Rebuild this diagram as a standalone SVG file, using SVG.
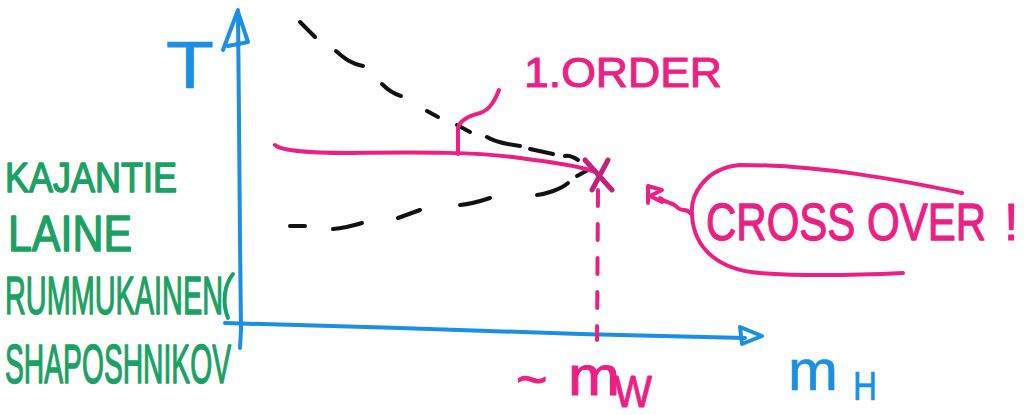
<svg xmlns="http://www.w3.org/2000/svg" width="1031" height="415" viewBox="0 0 1031 415">
<style>
.blue{stroke:#1a8fe3;fill:none;stroke-width:4;stroke-linecap:round;stroke-linejoin:round}
.pink{stroke:#ec1f85;fill:none;stroke-width:4;stroke-linecap:round;stroke-linejoin:round}
.dash{stroke:#111;fill:none;stroke-width:4;stroke-linecap:round}
.g{font-family:"Liberation Sans",Arial,sans-serif;fill:#1aa163;stroke:#1aa163;stroke-width:1.5;stroke-linejoin:round}
.pt{font-family:"Liberation Sans",Arial,sans-serif;fill:#ec1f85;stroke:#ec1f85;stroke-width:1;stroke-linejoin:round}
.bt{font-family:"Liberation Sans",Arial,sans-serif;fill:#1a8fe3;stroke:#1a8fe3;stroke-width:0.6}
</style>
<rect width="1031" height="415" fill="#fff"/>
<g id="axes">
<path class="blue" d="M238,12 L239,120 L240,240 L241,330 L240,348"/>
<path class="blue" d="M238,10 L223,50 M238,12 L248,42 L228,46"/>
<path class="blue" d="M225,323 L400,328 L580,334 L745,338"/>
<path class="blue" d="M740,327 L762,336 L742,344 Z" fill="#1a8fe3"/>
</g>
<g id="labels-axes">
<text class="bt" x="166" y="88" font-size="66" font-weight="300" textLength="48" lengthAdjust="spacingAndGlyphs">T</text>
<text class="bt" x="788" y="390" font-size="58" textLength="50" lengthAdjust="spacingAndGlyphs">m</text>
<text class="bt" x="853" y="400" font-size="40" textLength="24" lengthAdjust="spacingAndGlyphs">H</text>
</g>
<g id="authors">
<text class="g" x="5" y="192" font-size="42" textLength="172" lengthAdjust="spacingAndGlyphs">KAJANTIE</text>
<text class="g" x="8" y="251" font-size="50" textLength="124" lengthAdjust="spacingAndGlyphs">LAINE</text>
<text class="g" x="5" y="314" font-size="54" textLength="218" lengthAdjust="spacingAndGlyphs">RUMMUKAINEN</text>
<path d="M233,274 C224,285 222,303 228,318" stroke="#1aa163" stroke-width="4" fill="none" stroke-linecap="round"/>
<text class="g" x="5" y="383" font-size="56" textLength="226" lengthAdjust="spacingAndGlyphs">SHAPOSHNIKOV</text>
</g>
<g id="connectors">
<g id="upper-dashed">
<path class="dash" d="M300,22 L315,37" stroke="#7f7fa8"/>
<path class="dash" d="M336,51 C345,59 352,64 363,66"/>
<path class="dash" d="M382,84 C388,90 394,94 401,96"/>
<path class="dash" d="M427,111 L438,117"/>
<path class="dash" d="M457,125 L470,132" stroke="#333355"/>
<path class="dash" d="M487,137 C495,142 505,144 520,146"/>
<path class="dash" d="M530,149 L553,154" stroke="#333355"/>
<path class="dash" d="M565,156 C570,155 575,158 578,160"/>
</g>
<g id="lower-dashed">
<path class="dash" d="M290,226 L305,226"/>
<path class="dash" d="M333,229 C345,228 352,226 362,223"/>
<path class="dash" d="M398,218 L420,210"/>
<path class="dash" d="M460,205 C470,204 478,202 490,198"/>
<path class="dash" d="M537,195 C545,194 560,190 568,183"/>
<path class="dash" d="M577,176 L588,170" stroke="#333355"/>
</g>
<path id="first-order-line" class="pink" d="M275,145 C280,150 300,153 350,153 C420,152 480,152 520,158 C550,162 580,166 595,172"/>
<path id="crossing" d="M585,160 L612,190 M608,160 L592,190" stroke="#c2207a" stroke-width="5" fill="none" stroke-linecap="round"/>
<path id="mw-drop" class="pink" stroke-dasharray="16 18" d="M598,190 L597,340"/>
<path id="order-leader" class="pink" d="M458,154 L458,128 C460,120 468,116 480,113 C490,110 495,100 499,90"/>
<path id="crossover-pointer" class="pink" d="M690,213 C686,208 683,212 678,208 C673,202 665,203 660,198 M648,186 L648,203 M648,186 L662,190 L650,196 L662,202"/>
<path id="crossover-loop" class="pink" d="M962,193 C900,180 820,165 740,165 C705,168 690,195 692,215 C694,250 720,270 760,273 C800,276 860,275 903,273"/>
</g>
<g id="annotations">
<text class="pt" x="524" y="87" font-size="42" textLength="198" lengthAdjust="spacingAndGlyphs">1.ORDER</text>
<text class="pt" transform="translate(706,240) scale(1,1.25)" x="0" y="0" font-size="42">CROSS OVER</text>
<text class="pt" x="1004" y="240" font-size="52" font-weight="300">!</text>
<text class="pt" x="516" y="398" font-size="54">~</text>
<text class="pt" x="568" y="395" font-size="56" textLength="52" lengthAdjust="spacingAndGlyphs">m</text>
<text class="pt" x="614" y="407" font-size="44" textLength="38" lengthAdjust="spacingAndGlyphs">W</text>
</g>
</svg>
